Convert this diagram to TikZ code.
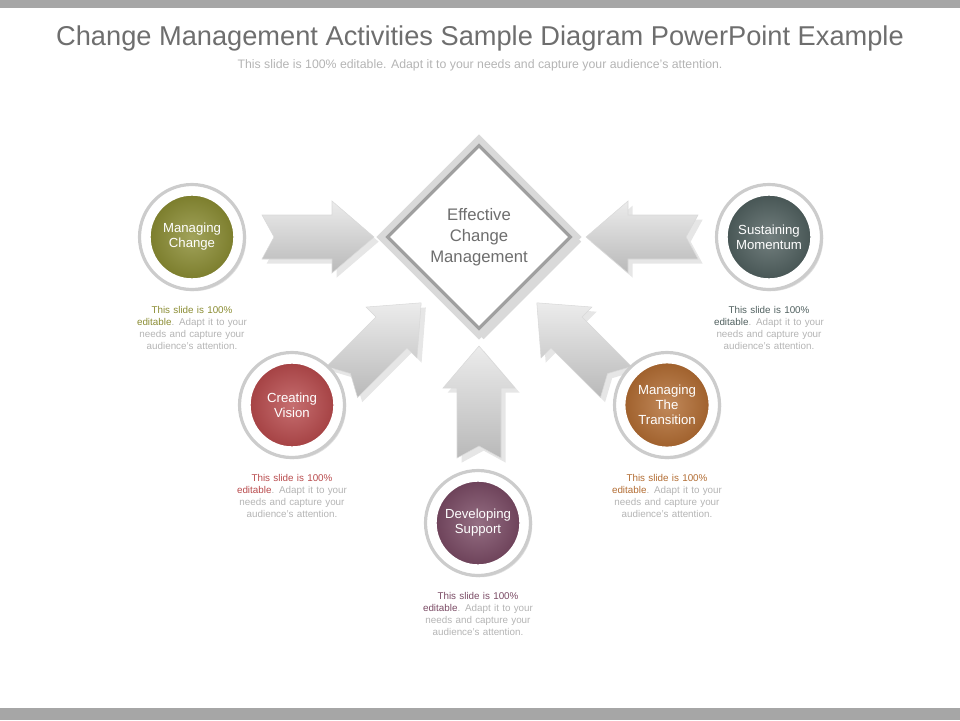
\documentclass[tikz,border=0pt]{standalone}
\usepackage{fontspec}
\setmainfont{Liberation Sans}
\usetikzlibrary{shapes.geometric,positioning,shadows}
\definecolor{barGray}{HTML}{A6A6A6}
\definecolor{titleGray}{HTML}{6E6E6E}
\definecolor{noteGray}{HTML}{B4B4B4}
\definecolor{olive}{HTML}{8A8C32}
\definecolor{vision}{HTML}{B84A4C}
\definecolor{support}{HTML}{7A4A64}
\definecolor{transition}{HTML}{B26C32}
\definecolor{momentum}{HTML}{50605F}
\tikzset{
  ring/.style={circle,minimum size=105*0.02cm,inner sep=0pt,fill=white,draw=gray!40,line width=1.8pt,
    drop shadow={opacity=0.25,shadow xshift=1pt,shadow yshift=-1pt}},
  ball/.style={circle,minimum size=84*0.02cm,inner sep=0pt,text width=1.5cm,align=center,
    text=white,font=\fontsize{7.5}{8.5}\selectfont,draw=white,line width=0.8pt},
  note/.style={text width=2.4cm,align=center,text=noteGray,font=\fontsize{5.6}{6.8}\selectfont},
  bigarrow/.style={top color=gray!15,bottom color=gray!55,draw=gray!30,line width=0.3pt,
    drop shadow={opacity=0.2}}
}
\newcommand{\changearrow}[3]{%
  \begin{scope}[shift={(#1,#2)},rotate=#3]
    \path[bigarrow] (0,-22)--(70,-22)--(70,-36)--(112,0)--(70,36)--(70,22)--(0,22)--(12,0)--cycle;
  \end{scope}}
\newcommand{\slidenote}[1]{{\color{#1}This slide is 100\% editable}. Adapt it to your needs and capture your audience's attention.}
\begin{document}
\begin{tikzpicture}[x=0.02cm,y=-0.02cm]
  \useasboundingbox (0,0) rectangle (960,720);
  \fill[barGray] (0,0) rectangle (960,8);
  \fill[barGray] (0,708) rectangle (960,720);
  \node[text=titleGray,font=\fontsize{15.5}{18}\selectfont] (title) at (480,38) {Change Management Activities Sample Diagram PowerPoint Example};
  \node[text=noteGray,font=\fontsize{7}{8}\selectfont] (subtitle) at (480,65) {This slide is 100\% editable. Adapt it to your needs and capture your audience's attention.};
  % arrows
  \changearrow{262}{237}{0}
  \changearrow{698}{237}{180}
  \changearrow{479}{458}{90}
  \changearrow{342}{382}{45}
  \changearrow{616}{382}{135}
  % centre
  \node[diamond,minimum size=198*0.02cm,fill=white,draw=gray!30,line width=4pt,
    drop shadow={opacity=0.3}] (core) at (479,237) {};
  \node[diamond,minimum size=184*0.02cm,draw=gray!75,line width=1.8pt] (coreframe) at (479,237) {};
  \node[text width=2.4cm,align=center,text=titleGray,font=\fontsize{9.5}{12}\selectfont]
    (coretext) at (479,237) {Effective\\Change\\Management};
  % circles
  \foreach \name/\x/\y/\col/\label in {
      mchange/192/237/olive/{Managing Change},
      vision/292/405/vision/{Creating Vision},
      support/478/523/support/{Developing Support},
      transition/667/405/transition/{Managing The Transition},
      momentum/769/237/momentum/{Sustaining Momentum}} {
    \node[ring] (\name ring) at (\x,\y) {};
    \node[ball,inner color=\col!80,outer color=\col!90!black] (\name) at (\x,\y) {\label};
    \node[note,below=5pt of \name ring] (\name note) {\slidenote{\col}};
  }
\end{tikzpicture}
\end{document}
